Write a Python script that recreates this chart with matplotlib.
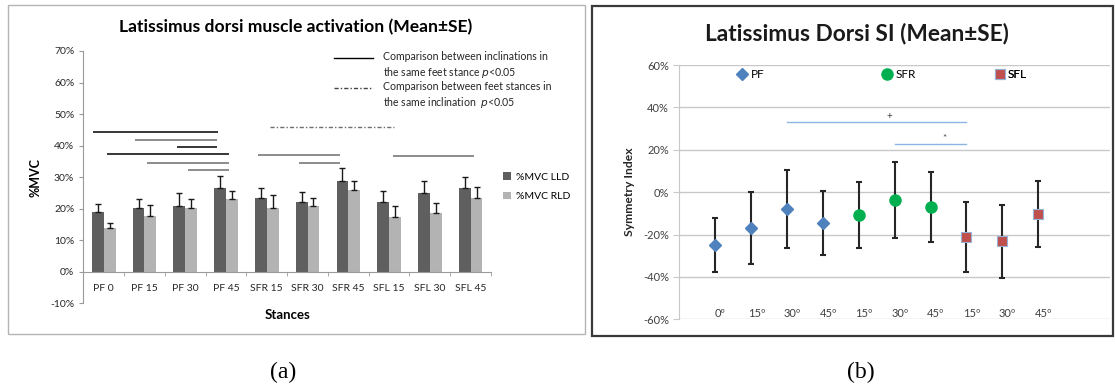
import matplotlib.pyplot as plt
import numpy as np
from matplotlib.patches import Rectangle
from matplotlib.lines import Line2D

plt.rcParams['font.family'] = ['Lato', 'DejaVu Sans']

# --- (a) muscle activation, %MVC ---
stances = ['PF 0', 'PF 15', 'PF 30', 'PF 45', 'SFR 15', 'SFR 30', 'SFR 45',
           'SFL 15', 'SFL 30', 'SFL 45']
lld_mean = [19.0, 20.2, 20.9, 26.5, 23.4, 22.1, 28.8, 22.1, 24.9, 26.6]
lld_se = [2.6, 2.9, 4.2, 3.8, 3.1, 3.1, 4.2, 3.4, 3.9, 3.4]
rld_mean = [13.9, 17.7, 20.2, 23.0, 20.2, 20.8, 25.9, 17.3, 18.6, 23.3]
rld_se = [1.7, 3.4, 2.9, 2.7, 4.1, 2.6, 2.8, 3.4, 3.3, 3.5]

# significance bars: (start, end, height in %, colour)
incl_bars = [(-0.25, 2.8, 44.2, 'black'), (0.76, 2.79, 41.8, '#6e6e6e'),
             (1.79, 2.79, 39.6, 'black'), (0.08, 3.08, 37.3, 'black'),
             (1.06, 3.08, 34.6, '#6e6e6e'), (2.08, 3.08, 32.4, '#6e6e6e'),
             (3.79, 5.80, 37.1, '#6e6e6e'), (4.80, 5.80, 34.6, '#6e6e6e'),
             (7.09, 9.08, 36.8, '#6e6e6e')]
stance_bars = [(4.09, 7.13, 46.0)]

# --- (b) symmetry index ---
si_labels = ['0º', '15º', '30º', '45º', '15º', '30º', '45º', '15º', '30º', '45º']
si_x = np.arange(1, 11)
si_mean = [-25.0, -17.0, -8.0, -14.4, -10.7, -3.6, -7.2, -21.0, -23.2, -10.2]
si_se = [12.8, 17.1, 18.5, 15.1, 15.6, 17.9, 16.5, 16.5, 17.1, 15.6]
groups = ['PF', 'SFR', 'SFL']
group_idx = [(0, 4), (4, 7), (7, 10)]
sig_lines_b = [(3, 8, 33.1, '+'), (6, 8, 22.5, '*')]

dashdot = (0, (3, 1.5, 1, 1.5))

fig = plt.figure(figsize=(11.15, 3.89), dpi=100)
renderer = fig.canvas.get_renderer()


def fit_width(t, width_px):
    # rescale a text's font so that it spans width_px pixels
    bb = t.get_window_extent(renderer)
    t.set_fontsize(t.get_fontsize() * width_px / bb.width)


# panel frames
fig.add_artist(Rectangle((0.0072, 0.141), 0.5175, 0.846, transform=fig.transFigure,
                         fill=False, ec='#b4b4b4', lw=1.0))
fig.add_artist(Rectangle((0.531, 0.137), 0.467, 0.848, transform=fig.transFigure,
                         fill=False, ec='#3a3a3a', lw=1.6))

# ---------- panel (a) ----------
ax = fig.add_axes([0.0747, 0.2203, 0.3657, 0.6486])
x = np.arange(len(stances))
w = 0.29
ax.bar(x - w / 2, lld_mean, w, color='#5f5f5f', label='%MVC LLD', zorder=2)
ax.bar(x + w / 2, rld_mean, w, color='#b3b3b3', label='%MVC RLD', zorder=2)
ax.errorbar(x - w / 2, lld_mean, yerr=[np.zeros(10), lld_se], fmt='none',
            ecolor='#1a1a1a', elinewidth=1, capsize=2, capthick=1, zorder=3)
ax.errorbar(x + w / 2, rld_mean, yerr=[np.zeros(10), rld_se], fmt='none',
            ecolor='#1a1a1a', elinewidth=1, capsize=2, capthick=1, zorder=3)

for x0, x1, yv, c in incl_bars:
    ax.plot([x0, x1], [yv, yv], color=c, lw=1.1, solid_capstyle='butt')
for x0, x1, yv in stance_bars:
    ax.plot([x0, x1], [yv, yv], color='#6e6e6e', lw=1.0, ls=dashdot)

ax.set_xlim(-0.5, 9.5)
ax.set_ylim(-10, 70)
ax.set_yticks(np.arange(-10, 71, 10))
ax.set_yticklabels([f'{v}%' for v in range(-10, 71, 10)])
ax.set_xticks(x)
ax.set_xticklabels(stances)
ax.set_xticks(np.arange(-0.5, 10, 1), minor=True)
ax.tick_params(axis='x', which='major', length=0, pad=9, labelsize=7.5, colors='#262626')
ax.tick_params(axis='x', which='minor', length=3, color='#9a9a9a')
ax.tick_params(axis='y', length=3, color='#9a9a9a', labelsize=7.5, labelcolor='#262626')
for s in ['top', 'right']:
    ax.spines[s].set_visible(False)
ax.spines['bottom'].set_position(('data', 0))
ax.spines['bottom'].set_color('#9a9a9a')
ax.spines['left'].set_color('#9a9a9a')
ax.set_ylabel('%MVC', fontsize=9, fontweight='bold', labelpad=6)
ax.text(0.5, -0.045, 'Stances', transform=ax.transAxes, ha='center', va='center',
        fontsize=9.5, fontweight='bold')
title_a = fig.text(296 / 1115, 0.931, 'Latissimus dorsi muscle activation (Mean±SE)',
                   fontsize=15, fontweight='bold', ha='center', va='center')
fit_width(title_a, 353)

ax.legend(loc='center left', bbox_to_anchor=(1.02, 0.462), frameon=False,
          fontsize=7.5, handlelength=0.7, handleheight=0.7, handletextpad=0.5,
          labelspacing=1.0, borderaxespad=0)

# comparison key, drawn in figure coordinates
fig.add_artist(Line2D([0.2996, 0.3345], [0.8509, 0.8509], color='black', lw=1))
fig.add_artist(Line2D([0.2996, 0.3345], [0.7738, 0.7738], color='#444444', lw=1,
                      ls=dashdot))
fig.text(0.3435, 0.8316, 'Comparison between inclinations in\nthe same feet stance $p$<0.05',
         fontsize=7.6, va='center', ha='left', color='#262626', linespacing=1.3)
fig.text(0.3435, 0.7545, 'Comparison between feet stances in\nthe same inclination  $p$<0.05',
         fontsize=7.6, va='center', ha='left', color='#262626', linespacing=1.3)

# ---------- panel (b) ----------
bx = fig.add_axes([0.6092, 0.1792, 0.3863, 0.6537])
bx.set_xlim(0, 12)
bx.set_ylim(-60, 60)
bx.set_yticks(np.arange(-60, 61, 20))
bx.set_yticklabels([f'{v}%' for v in range(-60, 61, 20)])
bx.yaxis.grid(True, color='#c8c8c8', lw=1)
bx.set_axisbelow(True)
bx.set_xticks([])
for s in ['top', 'right', 'bottom']:
    bx.spines[s].set_visible(False)
bx.spines['left'].set_color('#c8c8c8')
bx.tick_params(axis='y', length=4, color='#c8c8c8', labelsize=8, labelcolor='#404040')

bx.errorbar(si_x, si_mean, yerr=si_se, fmt='none', ecolor='#262626',
            elinewidth=1.5, capsize=2.5, capthick=1.5, zorder=3)
styles = [dict(marker='D', color='#4f81bd', ms=6.0, mec='#4f81bd'),
          dict(marker='o', color='#00b050', ms=8.0, mec='#00b050'),
          dict(marker='s', color='#c0504d', ms=7.5, mec='#95b3d7', mew=0.8)]
handles = []
for name, (i0, i1), st in zip(groups, group_idx, styles):
    h, = bx.plot(si_x[i0:i1], si_mean[i0:i1], ls='none', zorder=4, label=name, **st)
    handles.append(h)

for lx, name, h in zip([0.135, 0.472, 0.733], groups, handles):
    bx.legend([h], [name], loc='center left', bbox_to_anchor=(lx, 0.963),
              frameon=False, fontsize=8.5, handlelength=0.8, handletextpad=0.3,
              borderaxespad=0, borderpad=0)
    bx.add_artist(bx.get_legend())

for xv, lab in zip(si_x, si_labels):
    bx.text(xv + 0.15, -57.5, lab, ha='center', va='center', fontsize=8,
            color='#404040')

for x0, x1, yv, mark in sig_lines_b:
    bx.plot([x0, x1], [yv, yv], color='#8db4e2', lw=1.0, zorder=2)
    bx.text((x0 + x1) / 2 + (0.35 if mark == '+' else 0.4), yv + 0.5, mark,
            ha='center', va='bottom', fontsize=7, color='#404040')

bx.set_ylabel('Symmetry Index', fontsize=8.7, fontweight='bold', labelpad=6,
              color='#262626')
title_b = fig.text(857 / 1115, 0.915, 'Latissimus Dorsi SI (Mean±SE)', fontsize=16,
                   fontweight='bold', ha='center', va='center', color='#1a1a1a')
fit_width(title_b, 304)

# captions
fig.text(0.254, 0.043, '(a)', ha='center', va='center', fontsize=17,
         family='Liberation Serif')
fig.text(0.772, 0.043, '(b)', ha='center', va='center', fontsize=17,
         family='Liberation Serif')

fig.savefig('out.png', dpi=100)
